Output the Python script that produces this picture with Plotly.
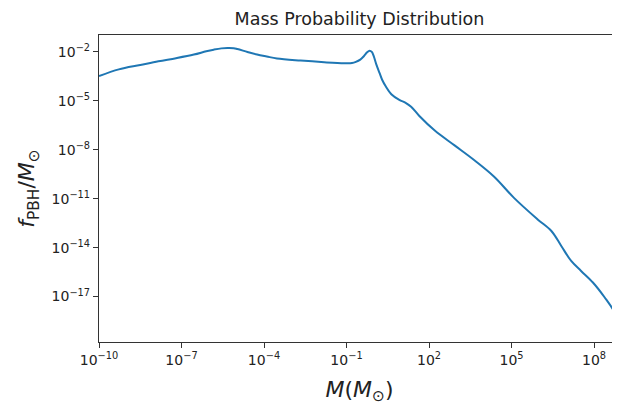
import numpy as np
import plotly.graph_objects as go

# log10 of mass (solar masses) and log10 of f_PBH / M_sun
log_mass = [-10, -9.28, -8.5, -7.84, -7.2, -6.55, -6.1, -5.83, -5.55, -5.33, -5.1, -4.97,
            -4.6, -4.25, -3.9, -3.53, -2.67, -1.81, -1.09, -0.8, -0.66, -0.5, -0.37,
            -0.25, -0.16, -0.08, -0.01, 0.08, 0.20, 0.30, 0.42, 0.63, 0.92, 1.15,
            1.35, 1.64, 2.21, 2.93, 3.65, 4.37, 5.09, 5.95, 6.45, 6.81, 7.17, 7.53,
            7.96, 8.39, 8.75, 8.94]
log_f = [-3.48, -3.07, -2.80, -2.57, -2.38, -2.16, -1.96, -1.86, -1.78, -1.76, -1.77, -1.82,
         -2.00, -2.16, -2.28, -2.40, -2.53, -2.63, -2.69, -2.68, -2.61, -2.47, -2.26,
         -2.02, -1.92, -2.00, -2.26, -2.75, -3.28, -3.72, -4.09, -4.59, -4.94, -5.12,
         -5.36, -5.91, -6.82, -7.73, -8.64, -9.65, -10.95, -12.27, -12.98, -13.90,
         -14.82, -15.43, -16.14, -17.06, -17.98, -18.90]

x_tick_exp = [-10, -7, -4, -1, 2, 5, 8]
y_tick_exp = [-2, -5, -8, -11, -14, -17]

mass = 10.0 ** np.array(log_mass)
fpbh = 10.0 ** np.array(log_f)


def sup_label(e):
    s = str(e).replace("-", "\u2212")
    return f"10<sup>{s}</sup>"


fig = go.Figure()
fig.add_trace(go.Scatter(
    x=mass, y=fpbh, mode="lines",
    line=dict(color="#1f77b4", width=2, shape="spline", smoothing=1.0),
    showlegend=False,
))

# the page body has an 8px margin, so the figure sits at (8, 8) in the window
OFF = 8
W, H = 620, 404
L, T, R, B = 99 - OFF, 35 - OFF, OFF, H - (342 - OFF)

font = "DejaVu Sans, sans-serif"
fig.update_layout(
    width=W, height=H,
    margin=dict(l=L, r=R, t=T, b=B, autoexpand=False),
    paper_bgcolor="white", plot_bgcolor="white",
    font=dict(family=font, color="black", size=14),
    title=dict(text="Mass Probability Distribution", x=(L + W - R) / 2 / W,
               xanchor="center", y=1 - (19 - OFF) / H, yanchor="middle",
               font=dict(size=17.5, family=font, color="#222222")),
)
fig.update_xaxes(
    type="log", range=[-10, 8.945], automargin=False,
    tickvals=[10.0 ** e for e in x_tick_exp],
    ticktext=[sup_label(e) for e in x_tick_exp],
    ticks="outside", ticklen=5, tickwidth=1, tickcolor="#333333",
    showline=True, linecolor="#333333", linewidth=1.2, mirror=True,
    showgrid=False, zeroline=False,
    tickfont=dict(size=14, family=font, color="#222222"),
    title=dict(text="<i>M</i>(<i>M</i><sub>\u2299</sub>)",
               font=dict(size=22, family=font, color="#222222"), standoff=14),
)
fig.update_yaxes(
    type="log", range=[-19.79, -0.96], automargin=False,
    tickvals=[10.0 ** e for e in y_tick_exp],
    ticktext=[sup_label(e) for e in y_tick_exp],
    ticks="outside", ticklen=5, tickwidth=1, tickcolor="#333333",
    showline=True, linecolor="#333333", linewidth=1.2, mirror=False,
    showgrid=False, zeroline=False,
    tickfont=dict(size=14, family=font, color="#222222"),
    title=dict(text="<i>f</i><sub>PBH</sub>/<i>M</i><sub>\u2299</sub>",
               font=dict(size=22, family=font, color="#222222"), standoff=10),
)

fig.write_html("out.html")
